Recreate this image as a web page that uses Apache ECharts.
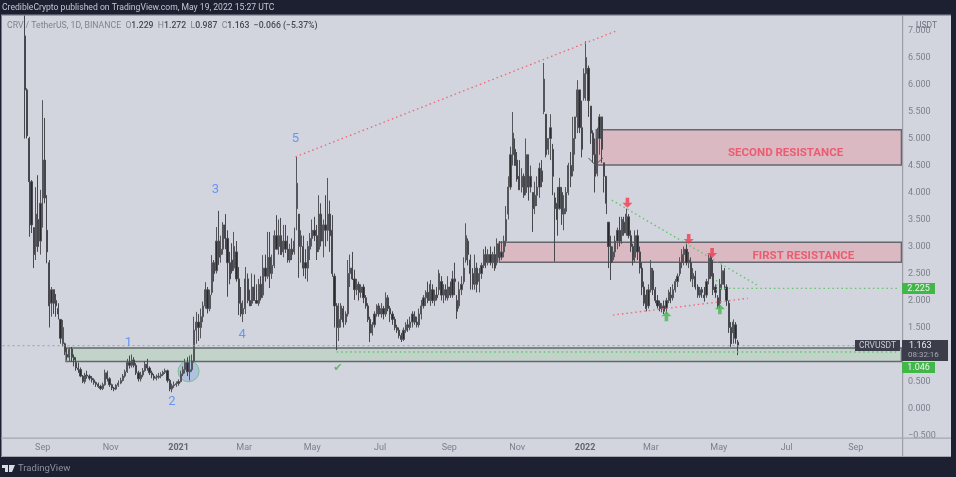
<!DOCTYPE html>
<html><head><meta charset="utf-8">
<script src="https://cdn.jsdelivr.net/npm/echarts@6/dist/echarts.min.js"></script>
<style>html,body{margin:0;padding:0;background:#1c2030}#c{width:956px;height:477px;filter:blur(.6px)}</style>
</head><body><div id="c"></div>
<script>
// Axis
const axisStart='2020-07-27', axisDays=808;
const monthTicks={'2020-09-01':'Sep','2020-11-01':'Nov','2021-01-01':'2021','2021-03-01':'Mar','2021-05-01':'May','2021-07-01':'Jul','2021-09-01':'Sep','2021-11-01':'Nov','2022-01-01':'2022','2022-03-01':'Mar','2022-05-01':'May','2022-07-01':'Jul','2022-09-01':'Sep'};
// Candles, one row every second day from candleStart: open, close, low, high
const candleStart='2020-08-16', candleStepDays=2;
const candles=[
[6.9,5.9,5,8.2],[5.9,5.05,5,5.93],[5,4.2,3.18,5.03],[4.2,3.4,3.25,4.23],[3.35,2.85,2.6,3.35],[3,3.6,2.75,4.1],[3.5,3,2.9,4.32],[3.1,3.8,2.85,4.05],[3.9,4.6,3.35,5.71],[4.6,3.9,3.8,5.38],
[3.3,2.9,2.69,3.95],[2.7,1.9,1.5,2.75],[1.95,2.2,1.7,2.25],[2.2,1.95,1.75,2.2],[2,1.9,1.7,2.12],[1.85,1.75,1.65,1.95],[1.65,1.3,1.2,1.65],[1.2,1.5,1.15,1.64],[1.2,1.05,.99,1.22],[1,.95,.9,1.12],
[.95,1.1,.88,1.13],[1.1,.95,.87,1.14],[.95,.9,.78,1],[.85,.75,.7,.95],[.75,.72,.66,.85],[.72,.6,.58,.76],[.6,.5,.47,.62],[.5,.62,.46,.66],[.62,.6,.55,.7],[.6,.56,.52,.63],
[.56,.53,.48,.6],[.53,.48,.44,.56],[.48,.45,.4,.5],[.45,.41,.38,.48],[.41,.37,.34,.44],[.37,.44,.34,.48],[.44,.66,.42,.72],[.66,.55,.5,.7],[.55,.44,.4,.58],[.44,.38,.34,.46],
[.38,.36,.32,.4],[.36,.43,.34,.45],[.43,.47,.4,.52],[.47,.52,.45,.57],[.52,.6,.5,.64],[.6,.68,.57,.72],[.68,.85,.66,.92],[.85,.8,.74,.98],[.8,.9,.76,1],[.9,.8,.76,.95],
[.8,.66,.62,.84],[.66,.55,.5,.7],[.55,.62,.5,.68],[.62,.7,.58,.75],[.7,.82,.68,.88],[.82,.75,.7,.92],[.75,.66,.62,.78],[.66,.62,.56,.7],[.6,.56,.52,.64],[.56,.58,.52,.63],
[.58,.6,.55,.66],[.6,.63,.56,.67],[.63,.67,.6,.7],[.67,.7,.64,.74],[.7,.52,.48,.72],[.52,.36,.32,.55],[.36,.42,.3,.46],[.42,.44,.38,.5],[.44,.46,.4,.5],[.46,.5,.42,.54],
[.5,.64,.48,.7],[.64,.72,.6,.78],[.72,.85,.65,.92],[.85,.68,.6,.95],[.68,.72,.52,.98],[.72,.88,.68,1],[.88,1.45,.85,1.7],[1.45,1.6,1.2,1.79],[1.6,1.5,1.25,1.75],[1.5,1.7,1.3,1.85],
[1.7,1.9,1.6,1.98],[1.9,2.2,1.85,2.34],[2.2,1.85,1.76,2.25],[1.85,2.1,1.8,2.2],[2.15,2.7,2.1,2.84],[2.7,2.5,2.35,2.75],[2.55,3.1,2.5,3.36],[3.1,2.8,2.66,3.66],[2.85,2.95,2.7,3.2],[2.95,3.4,2.85,3.45],
[3.4,3.15,2.95,3.6],[3.15,2.7,2.07,3.3],[2.7,2.4,2.3,2.9],[2.75,2.55,2.5,3.06],[2.6,3,2.55,3.27],[2.9,2.4,2.35,3.1],[2.4,1.95,1.73,2.62],[1.95,1.75,1.7,2.25],[1.75,1.85,1.6,2],[1.85,2.4,1.75,2.62],
[2.4,2,1.95,2.5],[2,1.9,1.9,2.2],[1.95,2.25,1.9,2.5],[2.25,2,2,2.48],[2,1.95,1.95,2.3],[1.95,2.3,1.9,2.4],[2.3,2.05,2,2.45],[2.1,2.6,2.05,2.84],[2.6,2.45,2.35,2.85],[2.45,2.8,2.4,3.27],
[2.8,2.5,2.23,3.27],[2.5,2.65,2.4,2.85],[2.65,3.2,2.6,3.3],[3.2,2.95,2.95,3.58],[3,3.2,2.85,3.5],[3.2,2.85,2.85,3.53],[2.9,3.1,2.8,3.4],[3.1,2.95,2.88,3.4],[2.95,2.75,2.7,3.2],[2.75,2.95,2.7,3.05],
[2.95,2.85,2.75,3.15],[2.9,3.1,2.85,3.35],[3.7,4.17,3.3,4.66],[3.6,3,2.42,3.6],[3,3.2,2.7,3.3],[3,2.6,2.45,3.2],[2.7,2.6,2.4,2.95],[2.6,3,2.35,3.1],[2.95,3.15,2.75,3.25],[3.15,3.3,3,3.5],
[3.3,3.2,3.1,3.55],[3.2,2.9,2.75,3.4],[2.95,3.6,2.9,3.95],[3.6,3.1,3,3.8],[3.1,3.4,2.8,3.5],[3.4,3.3,3,3.95],[3.3,3.6,3.1,4.27],[3.6,3.2,2.9,3.85],[3.3,2.5,2.44,3.58],[2.45,1.9,1.5,2.5],
[1.9,1.5,1.08,1.95],[1.5,1.65,1.25,1.95],[1.65,1.9,1.5,1.95],[1.85,1.6,1.5,1.9],[1.6,1.75,1.55,1.8],[1.75,2.5,1.7,2.75],[2.5,2.6,2.25,2.85],[2.6,2.4,2.38,2.9],[2.4,2.2,2.01,2.57],[2.2,2.3,2.1,2.4],
[2.3,2.15,2,2.35],[2.15,2.25,2.05,2.3],[2.25,2.05,1.95,2.3],[2.05,1.9,1.85,2.1],[1.9,1.65,1.6,1.95],[1.65,1.4,1.23,1.7],[1.4,1.55,1.35,1.6],[1.55,1.75,1.5,1.8],[1.75,1.9,1.7,1.93],[1.9,1.75,1.7,1.95],
[1.75,1.85,1.68,1.95],[1.85,1.75,1.65,1.9],[1.75,2.05,1.7,2.15],[2.05,1.85,1.8,2.1],[1.85,1.75,1.6,1.9],[1.75,1.65,1.55,1.8],[1.65,1.5,1.45,1.7],[1.5,1.45,1.4,1.55],[1.45,1.35,1.3,1.5],[1.35,1.28,1.23,1.4],
[1.28,1.45,1.25,1.5],[1.45,1.55,1.4,1.6],[1.55,1.5,1.42,1.65],[1.5,1.6,1.45,1.7],[1.6,1.75,1.5,1.8],[1.7,1.6,1.55,1.8],[1.6,1.55,1.5,1.7],[1.55,1.75,1.5,1.85],[1.75,1.9,1.65,2.01],[1.9,2.05,1.85,2.1],
[2.05,2.15,1.9,2.19],[2.15,2,1.95,2.35],[2,2.3,1.9,2.38],[2.2,2,1.95,2.3],[2,2.1,1.9,2.2],[2.1,2.05,2,2.25],[2.2,2.5,2.1,2.57],[2.35,2.1,2,2.45],[2.1,2.2,1.95,2.3],[2.2,2.05,2,2.3],
[2.05,2.25,2,2.45],[2.25,2.1,2.05,2.35],[2.1,2.4,2.05,2.55],[2.4,2.35,2.1,2.7],[2,1.8,1.66,2.1],[1.9,2.2,1.85,2.35],[2.2,2.3,2.1,2.45],[2.35,2.6,2.3,2.8],[2.75,3.2,2.7,3.43],[3.1,2.85,2.65,3.15],
[2.75,2.5,2.2,2.85],[2.5,2.3,2.2,2.6],[2.3,2.6,2.2,2.85],[2.6,2.3,2.15,2.7],[2.35,2.5,2.15,2.6],[2.5,2.65,2.4,2.7],[2.65,2.85,2.6,2.95],[2.85,2.7,2.6,3],[2.7,2.85,2.65,2.95],[2.85,2.7,2.65,3],
[2.7,2.85,2.6,2.9],[2.85,2.6,2.55,3],[2.7,3.05,2.65,3.15],[3.05,2.8,2.75,3.1],[2.8,2.9,2.75,3.1],[2.9,3.1,2.8,3.2],[3.1,3.5,3,3.75],[3.6,4.1,3.5,4.3],[4.1,4.7,4.05,4.85],[4.7,5.1,4.5,5.49],
[4.8,4.5,4.5,5],[4.6,4.25,4.2,4.75],[4.3,4.05,4.05,4.6],[4.1,4.3,4,4.45],[4.3,3.95,3.9,4.35],[4,4.7,3.95,5],[4.7,4.1,3.85,4.7],[4.1,4.3,4,4.5],[4,3.7,3.27,4],[3.75,3.95,3.6,4.2],
[3.95,4.1,3.75,4.3],[4.1,4.45,3.9,4.55],[4.4,4.2,4.1,4.6],[5.5,6.1,5.45,6.4],[5.45,4.7,4.65,5.45],[4.8,5,4.7,5],[5,5.2,4.6,5.45],[4.8,4.3,3.95,4.9],[3.9,3.7,2.72,4],[3.8,3.5,3.2,4.1],
[3.7,4.1,3.68,4.27],[4,3.6,3.4,4.1],[3.6,3.7,3.3,3.95],[3.65,4,3.6,4.1],[4,4.5,3.95,4.55],[4.5,4.3,4.1,4.75],[4.4,5,4.3,5.4],[5,5.4,4.7,5.4],[5.4,5.9,5.1,6.08],[5.9,5.2,5.1,5.9],
[5.2,4.8,4.65,5.7],[5.75,6.2,5.7,6.3],[6.2,6.5,5.7,6.8],[6.3,5.7,5.4,6.35],[5.6,5.1,4.9,5.6],[5.1,4.7,4.55,5.15],[4.7,4.3,4,5],[4.35,5,4.3,5.2],[5,5.4,4.7,5.45],[5.4,4.8,4.55,5.4],
[4.55,4.3,4,4.55],[4.3,3.8,3.6,4.3],[3.45,3,2.6,3.45],[3,2.7,2.38,3.2],[2.75,2.9,2.7,3],[2.9,3.1,2.8,3.2],[3.1,3.3,2.95,3.35],[3.3,3.1,3,3.55],[3.2,3.5,3.05,3.55],[3.45,3.25,3.2,3.55],
[3.25,3.6,3.2,3.7],[3.55,3.2,3.15,3.6],[3.2,3,2.9,3.3],[3,2.75,2.65,3.05],[2.8,3.2,2.7,3.3],[3.2,2.9,2.75,3.31],[2.9,2.6,2.5,3],[2.6,2.25,2.1,2.7],[2.25,1.95,1.9,2.35],[2.1,1.85,1.8,2.2],
[1.9,2.2,1.85,2.3],[2.2,2.6,2.15,2.75],[2.55,2.2,2.1,2.6],[2.2,2,1.95,2.25],[2,1.9,1.85,2.1],[1.95,1.85,1.8,2],[1.85,1.9,1.78,1.95],[1.9,1.8,1.75,2],[1.85,2,1.75,2.05],[2,2.15,1.95,2.2],
[2.1,2.05,1.95,2.25],[2.05,2.2,2,2.3],[2.2,2.35,2.15,2.4],[2.35,2.45,2.25,2.5],[2.5,2.7,2.45,2.8],[2.7,2.85,2.6,2.95],[2.85,2.95,2.65,3],[2.95,2.7,2.65,3.06],[2.7,2.75,2.6,2.9],[2.7,2.4,2.35,2.8],
[2.4,2.5,2.25,2.6],[2.45,2.25,2.2,2.55],[2.25,2.1,2.05,2.3],[2.1,2.2,2.05,2.25],[2.2,2.15,2.05,2.25],[2.1,2.05,1.98,2.25],[2.1,2.35,2.05,2.4],[2.4,2.8,2.3,2.85],[2.8,2.45,2.4,2.85],[2.5,2.2,2.1,2.75],
[2.25,2.15,2.05,2.3],[2.05,1.9,1.85,2.1],[1.95,2.3,1.85,2.4],[2.3,2.55,2.2,2.66],[2.55,2.3,2.2,2.6],[2.25,2,1.9,2.3],[1.95,1.5,1.4,2],[1.5,1.2,1.14,1.6],[1.4,1.6,1.2,1.65],[1.55,1.3,1.2,1.6],
[1.229,1.163,.987,1.272]
];
// Price levels and drawn annotations
const lastPrice=1.163, greenLevel=1.046, targetLevel=2.225;
const zones=[
 {start:'2020-09-22',top:1.12,bottom:.87,fill:'#c2d4c9'},
 {start:'2021-10-16',top:3.08,bottom:2.71,fill:'#dbb9c3'},
 {start:'2022-01-11',top:5.16,bottom:4.51,fill:'#dbb9c3'}
];
const redTrends=[
 [['2021-04-16',4.66],['2022-01-30',7.0]],
 [['2022-01-26',1.73],['2022-05-27',2.04]]
];
const greenTrends=[
 [['2022-01-25',3.86],['2022-06-04',2.29]],
 [['2022-05-02',targetLevel],['2022-10-10',targetLevel]],
 [['2022-04-29',2.38],['2022-04-29',2.19]],
 [['2021-05-23',greenLevel],['2022-10-10',greenLevel]]
];
const blackArrow=[['2022-01-04',4.64],['2022-01-10',4.51],['2022-01-17',4.64]];
const waveLabels=[['2020-11-17',1.21,'1'],['2020-12-26',.12,'2'],['2021-02-03',4.05,'3'],['2021-02-27',1.36,'4'],['2021-04-16',4.99,'5']];
const zoneLabels=[['2022-06-30',4.73,'SECOND RESISTANCE'],['2022-07-16',2.82,'FIRST RESISTANCE']];
const redArrows=[['2022-02-08',3.81],['2022-04-04',3.14],['2022-04-25',2.88]];
const greenArrows=[['2022-03-15',1.71],['2022-05-02',1.84]];
const checkMarks=[['2021-05-24',.75,'\u2714']];
const circleMarks=[['2021-01-10',.69]];

function iso(ms){return new Date(ms).toISOString().slice(0,10);}
const DAY=864e5, t0=Date.parse(axisStart+'T00:00:00Z');
const categories=[];for(let i=0;i<axisDays;i++)categories.push(iso(t0+i*DAY));
const byDate={};const c0=Date.parse(candleStart+'T00:00:00Z');
candles.forEach((r,i)=>{byDate[iso(c0+i*candleStepDays*DAY)]=r;});
const candleData=categories.map(d=>byDate[d]||['-','-','-','-']);
const lastCat=categories[categories.length-1];

const font='Roboto, sans-serif', blueTxt='#4f84fb', axisCol='#7c808c', dotRed='#ee6a78', dotGreen='#62c46e';
const trend=(pts,col,type,w)=>({type:'line',data:pts,symbol:'none',silent:true,z:4,animation:false,lineStyle:{color:col,type:type||[1.5,3],width:w||1.4}});
const labelSeries=(pts,size,col,weight,ff)=>({type:'scatter',silent:true,z:6,animation:false,symbolSize:1,itemStyle:{color:'transparent'},
  data:pts.map(p=>({name:p[2],value:[p[0],p[1]]})),
  label:{show:true,position:'inside',formatter:'{b}',fontSize:size,color:col,fontWeight:weight||'normal',fontFamily:ff||font}});
const arrowDown='path://M3.2 0H6.8V5H10L5 10 0 5H3.2Z', arrowUp='path://M5 0 10 5H6.8V10H3.2V5H0Z';
const arrowSeries=(pts,sym,col)=>({type:'scatter',silent:true,z:6,animation:false,symbol:sym,symbolSize:10,itemStyle:{color:col},data:pts});

const txt=(x,y,t,size,col,o)=>({type:'text',z:200,silent:true,x,y,style:Object.assign({text:t,fontSize:size,fill:col,fontFamily:font,verticalAlign:'middle'},o||{})});
const box=(x,y,w,h,col,z)=>({type:'rect',z:z==null?190:z,silent:true,shape:{x,y,width:w,height:h},style:{fill:col}});

const option={
 animation:false,
 backgroundColor:'#1c2030',
 grid:{left:2,width:900,top:3.5,height:432,containLabel:false},
 xAxis:{type:'category',data:categories,boundaryGap:true,
  axisLine:{show:false},axisTick:{show:false},splitLine:{show:false},
  axisLabel:{margin:8,fontSize:9,color:axisCol,fontFamily:font,hideOverlap:false,
   interval:(i,v)=>monthTicks[v]!==undefined,
   formatter:v=>{const t=monthTicks[v]||'';return /^20/.test(t)?'{b|'+t+'}':t;},
   rich:{b:{fontWeight:'bold',fontSize:9,color:'#62666f',fontFamily:font}}}},
 yAxis:{type:'value',position:'right',min:-.5,max:7.5,interval:.5,
  axisLine:{show:false},axisTick:{show:false},splitLine:{show:false},
  axisLabel:{margin:6,fontSize:9,color:axisCol,fontFamily:font,showMaxLabel:false,formatter:v=>v.toFixed(3).replace('-','\u2212')}},
 series:[
  {type:'line',data:[],z:1,silent:true,animation:false,
   markArea:{silent:true,animation:false,z:1,data:zones.map(q=>[
     {xAxis:q.start,yAxis:q.top,itemStyle:{color:q.fill,borderColor:'#66676c',borderWidth:1.5}},
     {xAxis:lastCat,yAxis:q.bottom}])}},
  {type:'scatter',silent:true,z:1,animation:false,symbolSize:21,itemStyle:{color:'#a8bddf',borderColor:'#66bb7c',borderWidth:1},data:circleMarks},
  {type:'candlestick',z:3,large:false,animation:false,silent:true,barWidth:1.7,data:candleData,
   itemStyle:{color:'#29292e',color0:'#29292e',borderColor:'#55565b',borderColor0:'#47484d',borderWidth:1}},
  trend([[categories[0],lastPrice],[lastCat,lastPrice]],'#9a9da5',[2,3],1),
  ...redTrends.map(p=>trend(p,dotRed)),
  ...greenTrends.map(p=>trend(p,dotGreen)),
  trend(blackArrow,'#55565b','solid',1),
  labelSeries(waveLabels,13,blueTxt),
  labelSeries(zoneLabels,11.5,'#f0455b','bold'),
  labelSeries(checkMarks,11,'#43b649','normal','DejaVu Sans'),
  arrowSeries(redArrows,arrowDown,'#f23a4d'),
  arrowSeries(greenArrows,arrowUp,'#45b84e')
 ],
 graphic:{elements:[
  box(1,15,950,442,'#d2d5de',-1),
  box(0,0,956,15,'#1c2030',180),
  box(0,15,1.5,442,'#1c2030',180),
  box(1,14.5,950,1.3,'#8b8e98',181),
  box(902,15,1.2,442,'#9b9ea7',181),
  box(1,437.5,950,1.3,'#a3a6af',181),
  box(1,456,950,1,'#a3a6af',181),
  txt(2,7.5,'CredibleCrypto published on TradingView.com, May 19, 2022 15:27 UTC',8.6,'#c4c8d2'),
  txt(7,25.5,'{g|CRV / TetherUS, 1D, BINANCE  O}{d|1.229}  {g|H}{d|1.272}  {g|L}{d|0.987}  {g|C}{d|1.163}  {d|\u22120.066 (\u22125.37%)}',8.7,'#7c808c',
    {rich:{g:{fill:'#7f838f',fontSize:8.7,fontFamily:font},d:{fill:'#474a54',fontSize:8.7,fontFamily:font,fontWeight:500}}}),
  txt(916,25.5,'USDT',8.5,'#6d717d'),
  box(902,283,33,11,'#43b649'),
  txt(918.5,288.5,'2.225',9,'#e9f5ea',{align:'center'}),
  box(855,340,45,11,'#3b3e4a'),
  txt(877.5,345.5,'CRVUSDT',8.5,'#c6c9d2',{align:'center'}),
  box(902,340,46,21,'#3b3e4a'),
  txt(909,346,'1.163',9,'#eceef2'),
  txt(908,355,'08:32:16',8,'#a5a8b2'),
  box(902,362,33,11,'#43b649'),
  txt(918.5,367.5,'1.046',9,'#e9f5ea',{align:'center'}),
  {type:'polygon',z:200,silent:true,shape:{points:[[2,465],[8,465],[8,472],[5,472],[5,468],[2,468]]},style:{fill:'#d8dbe3'}},
  {type:'polygon',z:200,silent:true,shape:{points:[[9,465],[15,465],[12,472],[9,472]]},style:{fill:'#d8dbe3'}},
  txt(18,469,'TradingView',9.5,'#8d919d')
 ]}
};
const chart=echarts.init(document.getElementById('c'),null,{renderer:'canvas'});
chart.setOption(option);
</script></body></html>
